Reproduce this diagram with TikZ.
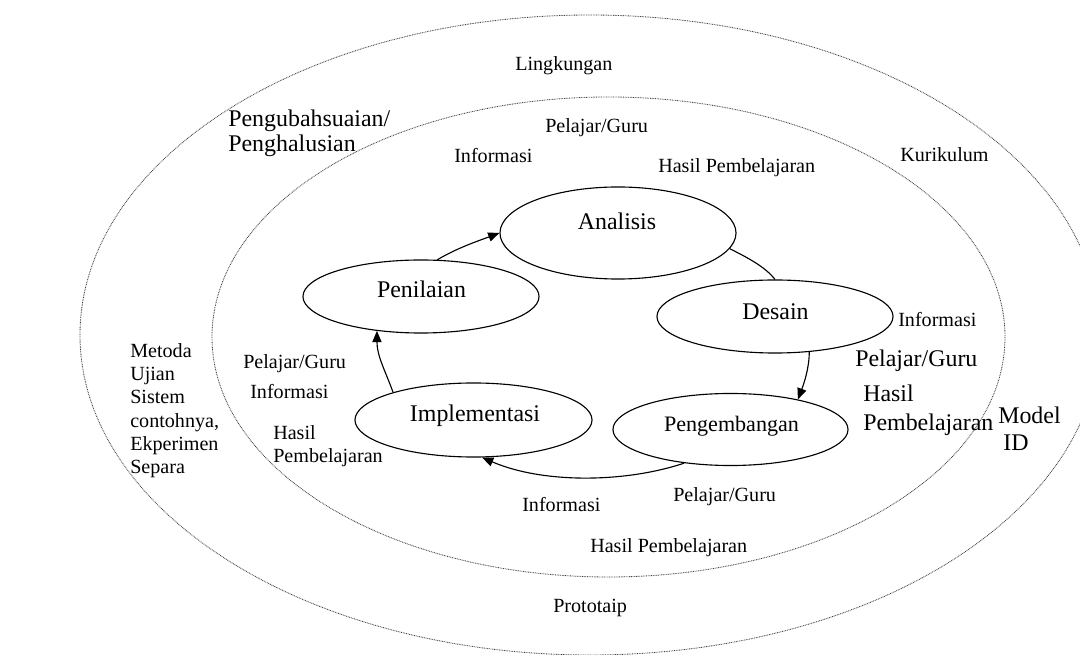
\documentclass[tikz,border=0pt]{standalone}
\usepackage{fontspec}
\setmainfont{Liberation Serif}
\usetikzlibrary{arrows.meta,shapes.geometric}
\begin{document}
\begin{tikzpicture}[x=0.025cm,y=-0.025cm,
  ring/.style={draw=black!75, line width=0.6pt, dash pattern=on 0.6pt off 0.6pt},
  stage/.style={draw=black, ellipse, line width=0.8pt, inner sep=0pt},
  conn/.style={draw=black, line width=0.8pt},
  arr/.style={conn, -{Triangle[length=2.8mm,width=2.3mm]}},
  lbl/.style={inner sep=0pt, anchor=base west, font=\fontsize{14.3}{16.6}\selectfont, align=left},
  big/.style={inner sep=0pt, anchor=base west, font=\fontsize{17}{21}\selectfont, align=left},
  stxt/.style={inner sep=0pt, anchor=base, font=\fontsize{17}{21}\selectfont},
]
\useasboundingbox (0,0) rectangle (1080,655);
% environment rings
\draw[ring] (590,335) ellipse [x radius=510, y radius=320];
\draw[ring] (608.5,337) ellipse [x radius=396.5, y radius=240];

% stage ellipses
\node[stage, minimum width=5.9cm, minimum height=2.3cm] (ana) at (618,233) {};
\node[stage, minimum width=5.9cm, minimum height=1.825cm] (pen) at (421,296.5) {};
\node[stage, minimum width=5.9cm, minimum height=1.825cm] (des) at (775,316.5) {};
\node[stage, minimum width=5.925cm, minimum height=1.85cm] (imp) at (473.5,420) {};
\node[stage, minimum width=5.875cm, minimum height=1.8cm] (pgb) at (730.5,429.5) {};

% stage texts
\node[stxt] (anat) at (617,230) {Analisis};
\node[stxt] (pent) at (421.5,298) {Penilaian};
\node[stxt] (dest) at (775.5,320) {Desain};
\node[stxt] (impt) at (475,422) {Implementasi};
\node[stxt, font=\fontsize{15.7}{19}\selectfont] (pgbt) at (731.5,432) {Pengembangan};

% connectors
\draw[arr] (pen.66) .. controls +(20,-12) and +(-20,7.5) .. (ana.west);
\draw[conn] (ana.-8) .. controls +(16,8) and +(-10,-13) .. (des.north);
\draw[arr] (des.-46) .. controls +(0,16) and +(6,-16) .. (pgb.24);
\draw[arr] (pgb.216) .. controls +(-60,20) and +(60,26) .. (imp.-77);
\draw[arr] (imp.161) .. controls +(-8,-22) and +(0,25) .. (pen.218);

% labels (multi-line nodes: base = baseline of last line)
\node[lbl] (lingk) at (515,71) {Lingkungan};
\node[big, font=\fontsize{17}{17.8}\selectfont] (ubah) at (228,152) {Pengubahsuaian/\\Penghalusian};
\node[lbl] (pg1) at (545,133) {Pelajar/Guru};
\node[lbl] (inf1) at (454,163) {Informasi};
\node[lbl] (hp1) at (658,173) {Hasil Pembelajaran};
\node[lbl] (kur) at (900,162) {Kurikulum};
\node[lbl] (inf2) at (898,327) {Informasi};
\node[big] (pg2) at (855,367) {Pelajar/Guru};
\node[big, font=\fontsize{17}{21.3}\selectfont] (hp2) at (863,431) {Hasil\\Pembelajaran};
\node[big, font=\fontsize{17}{19.9}\selectfont] (model) at (998,451) {Model\\\hspace*{0.125cm}ID};
\node[lbl] (pg3) at (673,502) {Pelajar/Guru};
\node[lbl] (inf3) at (522,512) {Informasi};
\node[lbl] (hp3) at (590,553) {Hasil Pembelajaran};
\node[lbl] (proto) at (553,613) {Prototaip};
\node[lbl] (metoda) at (130,474) {Metoda\\Ujian\\Sistem\\contohnya,\\Ekperimen\\Separa};
\node[lbl] (pg4) at (243,369) {Pelajar/Guru};
\node[lbl] (inf4) at (250,399) {Informasi};
\node[lbl, font=\fontsize{14.3}{16.4}\selectfont] (hp4) at (273,463) {Hasil\\Pembelajaran};
\end{tikzpicture}
\end{document}
